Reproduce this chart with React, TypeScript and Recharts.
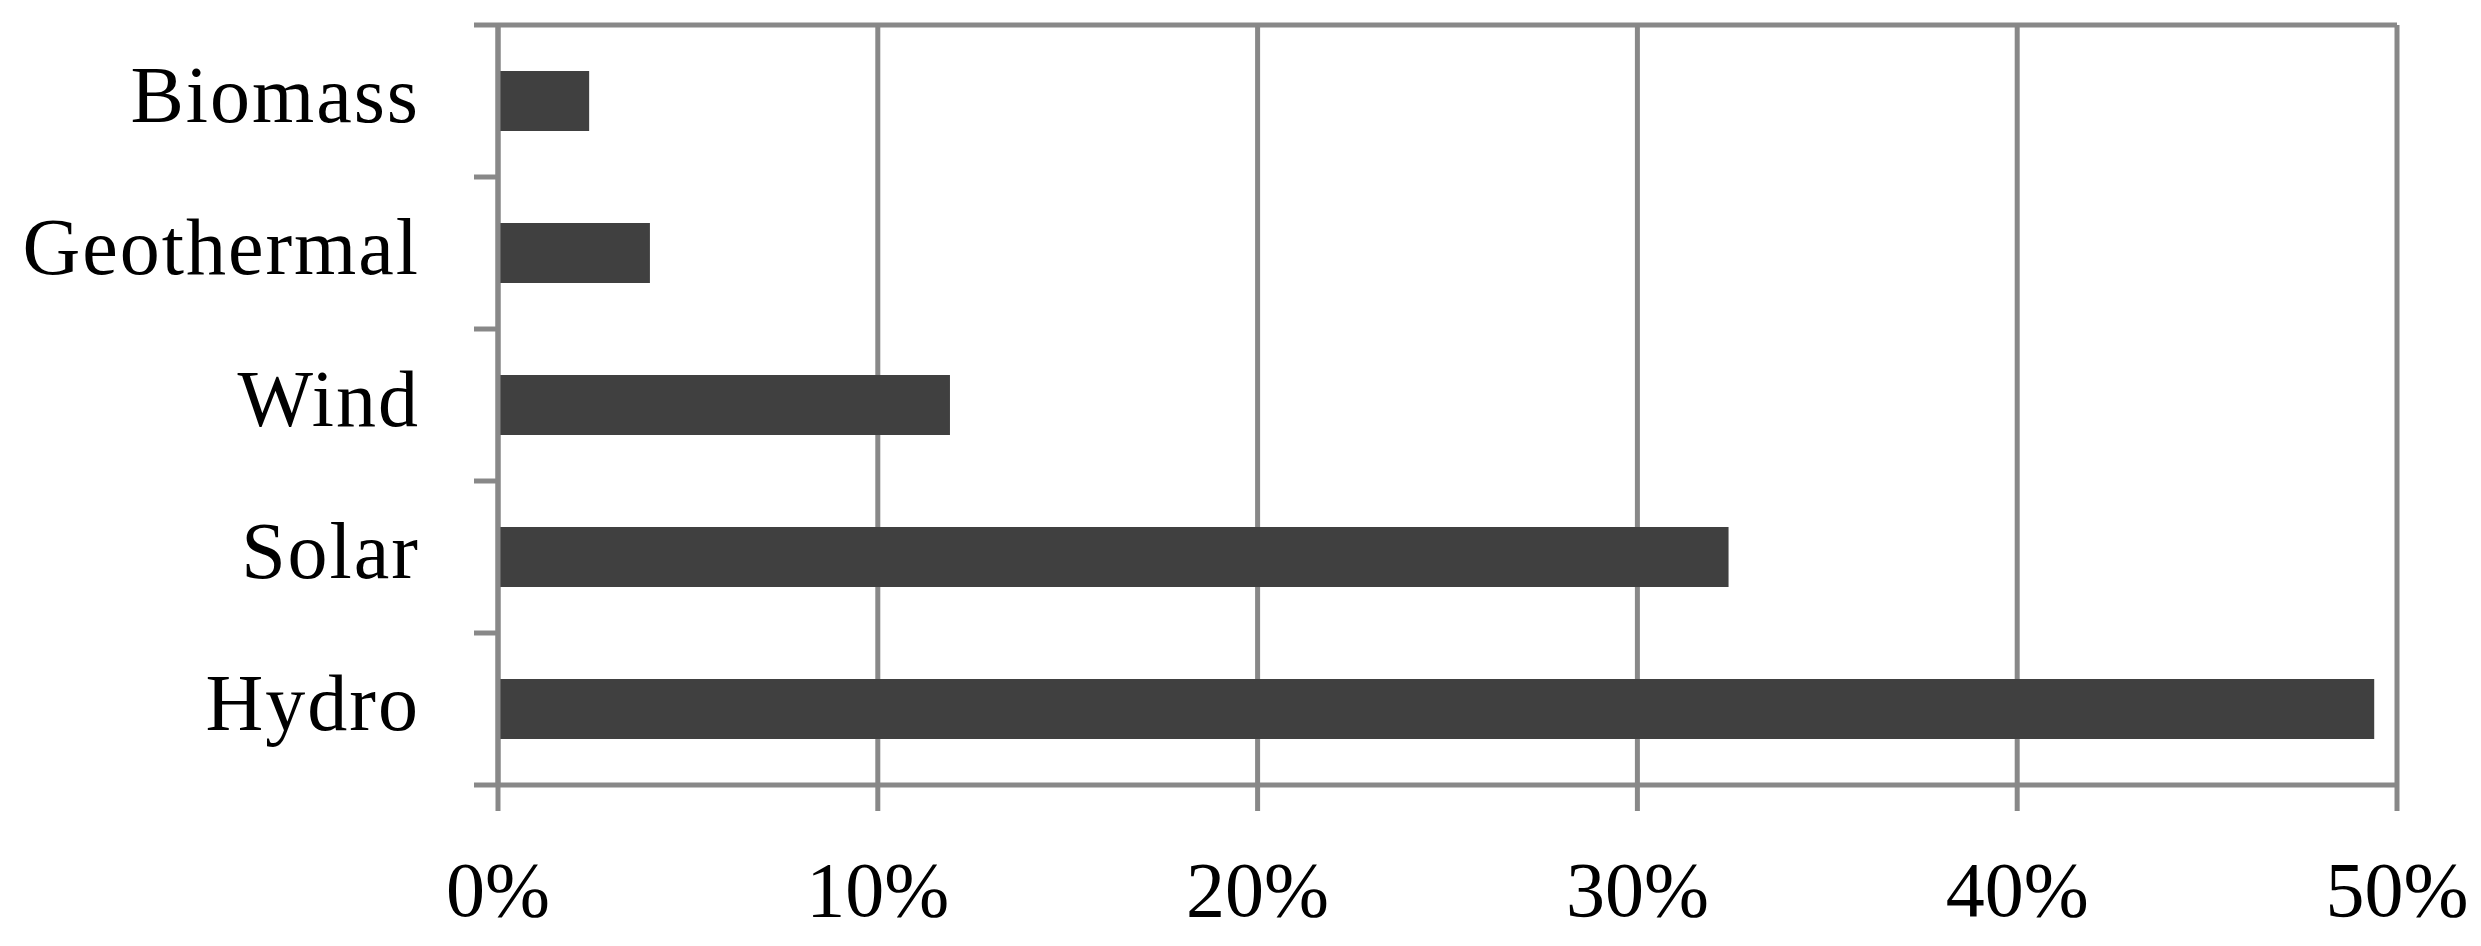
import React from "react";
import { BarChart, Bar, XAxis, YAxis, CartesianGrid } from "recharts";

const categories = ["Biomass", "Geothermal", "Wind", "Solar", "Hydro"];
const shares = [2.4, 4.0, 11.9, 32.4, 49.4];
const xTicks = [0, 10, 20, 30, 40, 50];

const data = categories.map((c, i) => ({ name: c, value: shares[i] }));

const W = 2481;
const H = 946;
const MARGIN = { top: 24, right: 84, bottom: 0, left: 0 };
const TOP_AXIS_H = 1;
const Y_AXIS_W = 498;
const X_AXIS_H = 161;
const PLOT_H = H - MARGIN.top - TOP_AXIS_H - MARGIN.bottom - X_AXIS_H;
const BAND = PLOT_H / categories.length;
const GRAY = "#888888";
const FONT = "'Liberation Serif', 'Times New Roman', serif";
const Y_TICK_SIZE = 24;
const Y_TICK_MARGIN = 54;

const CatTick = (props: any) => {
  const { x, y, payload, index } = props;
  const lx1 = x + Y_TICK_MARGIN;
  const lx2 = lx1 + Y_TICK_SIZE;
  return (
    <g>
      <line x1={lx1} x2={lx2} y1={y - BAND / 2} y2={y - BAND / 2} stroke={GRAY} strokeWidth={5} />
      {index === categories.length - 1 && (
        <line x1={lx1} x2={lx2} y1={y + BAND / 2} y2={y + BAND / 2} stroke={GRAY} strokeWidth={5} />
      )}
      <text x={x} y={y} dy={21} textAnchor="end" fontFamily={FONT} fontSize={80} letterSpacing={2} fill="#000">
        {payload.value}
      </text>
    </g>
  );
};

export default function App() {
  return (
    <div style={{ position: "absolute", left: 0, top: 0, background: "#fff" }}>
      <BarChart width={W} height={H} data={data} layout="vertical" margin={MARGIN} barSize={60}>
        <CartesianGrid horizontal={false} vertical={true} stroke={GRAY} strokeWidth={5} />
        <XAxis
          type="number"
          dataKey="value"
          domain={[0, 50]}
          ticks={xTicks}
          tickFormatter={(v: number) => `${v}%`}
          height={X_AXIS_H}
          axisLine={{ stroke: GRAY, strokeWidth: 5 }}
          tickLine={{ stroke: GRAY, strokeWidth: 5 }}
          tickSize={26}
          tickMargin={50}
          tick={{ fontFamily: FONT, fontSize: 78, fill: "#000" }}
          interval={0}
        />
        <XAxis
          xAxisId="top"
          orientation="top"
          type="number"
          domain={[0, 50]}
          height={TOP_AXIS_H}
          tick={false}
          tickLine={false}
          axisLine={{ stroke: GRAY, strokeWidth: 5 }}
        />
        <YAxis
          type="category"
          dataKey="name"
          width={Y_AXIS_W}
          axisLine={{ stroke: GRAY, strokeWidth: 5 }}
          tickLine={false}
          tickSize={Y_TICK_SIZE}
          tickMargin={Y_TICK_MARGIN}
          tick={<CatTick />}
          interval={0}
        />
        <Bar dataKey="value" fill="#404040" isAnimationActive={false} />
      </BarChart>
    </div>
  );
}
